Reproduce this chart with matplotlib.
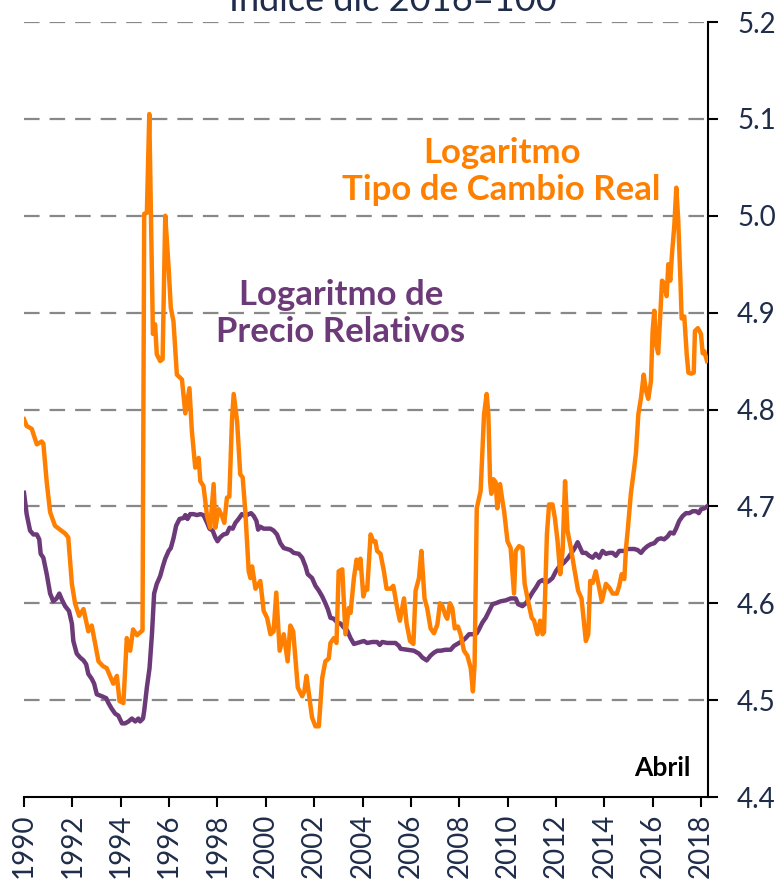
import matplotlib
matplotlib.use("Agg")
import matplotlib.pyplot as plt
from matplotlib.ticker import FormatStrFormatter

# Logaritmo del tipo de cambio real
tcr_anio = [
    1990.00, 1990.11, 1990.32, 1990.53, 1990.73, 1990.80, 1990.94, 1991.08, 1991.28, 1991.70,
    1991.83, 1991.98, 1992.11, 1992.28, 1992.46, 1992.66, 1992.80, 1993.08, 1993.27, 1993.42,
    1993.69, 1993.84, 1993.95, 1994.11, 1994.25, 1994.39, 1994.51, 1994.67, 1994.90, 1994.97,
    1995.08, 1995.18, 1995.25, 1995.33, 1995.42, 1995.49, 1995.63, 1995.73, 1995.84, 1995.98,
    1996.07, 1996.18, 1996.32, 1996.53, 1996.67, 1996.84, 1996.94, 1997.08, 1997.22, 1997.29,
    1997.42, 1997.57, 1997.70, 1997.84, 1997.91, 1998.05, 1998.19, 1998.28, 1998.39, 1998.49,
    1998.60, 1998.67, 1998.81, 1998.94, 1999.04, 1999.15, 1999.29, 1999.36, 1999.43, 1999.57,
    1999.77, 1999.91, 2000.05, 2000.19, 2000.32, 2000.43, 2000.57, 2000.74, 2000.90, 2001.01,
    2001.13, 2001.32, 2001.50, 2001.59, 2001.68, 2001.91, 2002.05, 2002.19, 2002.33, 2002.46,
    2002.60, 2002.67, 2002.81, 2002.92, 2003.01, 2003.16, 2003.29, 2003.43, 2003.50, 2003.64,
    2003.75, 2003.84, 2003.91, 2004.03, 2004.12, 2004.19, 2004.33, 2004.44, 2004.53, 2004.60,
    2004.74, 2004.88, 2004.99, 2005.16, 2005.27, 2005.43, 2005.54, 2005.71, 2005.82, 2005.96,
    2006.10, 2006.19, 2006.33, 2006.43, 2006.56, 2006.67, 2006.81, 2006.95, 2007.09, 2007.20,
    2007.30, 2007.43, 2007.50, 2007.61, 2007.71, 2007.81, 2007.94, 2008.05, 2008.19, 2008.33,
    2008.47, 2008.56, 2008.63, 2008.72, 2008.88, 2009.02, 2009.13, 2009.20, 2009.27, 2009.32,
    2009.41, 2009.50, 2009.57, 2009.68, 2009.78, 2009.85, 2009.99, 2010.12, 2010.26, 2010.33,
    2010.47, 2010.61, 2010.70, 2010.82, 2010.99, 2011.09, 2011.23, 2011.34, 2011.44, 2011.50,
    2011.62, 2011.71, 2011.85, 2011.95, 2012.06, 2012.17, 2012.27, 2012.37, 2012.47, 2012.61,
    2012.75, 2012.91, 2013.05, 2013.13, 2013.23, 2013.33, 2013.41, 2013.51, 2013.64, 2013.78,
    2013.89, 2014.06, 2014.20, 2014.34, 2014.51, 2014.61, 2014.71, 2014.82, 2014.89, 2014.96,
    2015.09, 2015.23, 2015.30, 2015.40, 2015.51, 2015.62, 2015.72, 2015.81, 2015.92, 2015.99,
    2016.06, 2016.13, 2016.22, 2016.31, 2016.38, 2016.47, 2016.57, 2016.64, 2016.72, 2016.79,
    2016.89, 2016.97, 2017.05, 2017.14, 2017.19, 2017.30, 2017.40, 2017.47, 2017.58, 2017.69,
    2017.74, 2017.86, 2017.99, 2018.06, 2018.13, 2018.24,
]
tcr_valor = [
    4.790, 4.783, 4.780, 4.764, 4.767, 4.765, 4.725, 4.694, 4.680, 4.672,
    4.668, 4.620, 4.600, 4.587, 4.594, 4.571, 4.577, 4.540, 4.535, 4.533,
    4.517, 4.525, 4.499, 4.497, 4.564, 4.551, 4.573, 4.567, 4.572, 5.002,
    5.003, 5.105, 5.000, 4.878, 4.888, 4.857, 4.850, 4.852, 5.000, 4.946,
    4.905, 4.891, 4.836, 4.831, 4.796, 4.822, 4.778, 4.740, 4.750, 4.726,
    4.721, 4.690, 4.678, 4.723, 4.678, 4.697, 4.690, 4.683, 4.709, 4.710,
    4.790, 4.816, 4.788, 4.733, 4.730, 4.695, 4.633, 4.626, 4.638, 4.615,
    4.623, 4.592, 4.585, 4.568, 4.571, 4.611, 4.551, 4.568, 4.540, 4.577,
    4.571, 4.513, 4.504, 4.509, 4.525, 4.482, 4.473, 4.473, 4.523, 4.540,
    4.543, 4.559, 4.564, 4.559, 4.633, 4.635, 4.568, 4.595, 4.590, 4.626,
    4.645, 4.636, 4.646, 4.607, 4.616, 4.614, 4.671, 4.664, 4.664, 4.654,
    4.651, 4.633, 4.615, 4.615, 4.618, 4.595, 4.582, 4.605, 4.579, 4.561,
    4.558, 4.613, 4.626, 4.654, 4.605, 4.595, 4.574, 4.569, 4.578, 4.600,
    4.597, 4.587, 4.584, 4.600, 4.595, 4.574, 4.576, 4.568, 4.551, 4.546,
    4.533, 4.509, 4.537, 4.698, 4.716, 4.795, 4.816, 4.795, 4.726, 4.713,
    4.728, 4.725, 4.698, 4.723, 4.706, 4.695, 4.664, 4.657, 4.610, 4.654,
    4.659, 4.657, 4.620, 4.605, 4.585, 4.582, 4.568, 4.582, 4.568, 4.570,
    4.671, 4.702, 4.702, 4.688, 4.664, 4.630, 4.654, 4.726, 4.675, 4.657,
    4.636, 4.613, 4.605, 4.585, 4.561, 4.568, 4.623, 4.621, 4.633, 4.616,
    4.602, 4.620, 4.616, 4.610, 4.610, 4.618, 4.630, 4.625, 4.657, 4.675,
    4.713, 4.740, 4.755, 4.795, 4.812, 4.836, 4.819, 4.811, 4.829, 4.881,
    4.902, 4.868, 4.858, 4.899, 4.933, 4.930, 4.917, 4.950, 4.933, 4.960,
    4.991, 5.029, 4.995, 4.933, 4.894, 4.896, 4.857, 4.838, 4.837, 4.838,
    4.881, 4.884, 4.878, 4.858, 4.860, 4.850,
]

# Logaritmo de precios relativos
pr_anio = [
    1990.00, 1990.11, 1990.25, 1990.39, 1990.53, 1990.63, 1990.69, 1990.80, 1990.94, 1991.08,
    1991.21, 1991.35, 1991.46, 1991.56, 1991.70, 1991.86, 1991.98, 1992.04, 1992.18, 1992.32,
    1992.46, 1992.57, 1992.66, 1992.80, 1992.90, 1993.01, 1993.22, 1993.40, 1993.49, 1993.63,
    1993.77, 1993.90, 1994.05, 1994.18, 1994.32, 1994.46, 1994.60, 1994.73, 1994.80, 1994.92,
    1994.97, 1995.08, 1995.19, 1995.29, 1995.38, 1995.49, 1995.63, 1995.74, 1995.84, 1995.98,
    1996.07, 1996.18, 1996.29, 1996.43, 1996.60, 1996.67, 1996.76, 1996.87, 1997.01, 1997.15,
    1997.29, 1997.42, 1997.57, 1997.67, 1997.80, 1997.91, 1998.00, 1998.11, 1998.25, 1998.39,
    1998.50, 1998.63, 1998.74, 1998.87, 1999.01, 1999.15, 1999.29, 1999.39, 1999.50, 1999.61,
    1999.68, 1999.77, 1999.91, 2000.05, 2000.19, 2000.32, 2000.46, 2000.60, 2000.74, 2000.88,
    2001.01, 2001.15, 2001.36, 2001.50, 2001.64, 2001.73, 2001.91, 2002.05, 2002.19, 2002.33,
    2002.46, 2002.56, 2002.67, 2002.81, 2002.95, 2003.09, 2003.22, 2003.36, 2003.50, 2003.64,
    2003.78, 2004.05, 2004.19, 2004.40, 2004.60, 2004.71, 2004.81, 2005.02, 2005.23, 2005.36,
    2005.50, 2005.57, 2005.85, 2006.12, 2006.33, 2006.47, 2006.65, 2006.81, 2006.95, 2007.09,
    2007.23, 2007.43, 2007.64, 2007.78, 2007.98, 2008.12, 2008.26, 2008.40, 2008.54, 2008.72,
    2008.81, 2008.95, 2009.09, 2009.23, 2009.37, 2009.50, 2009.71, 2009.92, 2010.12, 2010.33,
    2010.43, 2010.61, 2010.75, 2010.88, 2011.02, 2011.16, 2011.30, 2011.44, 2011.57, 2011.71,
    2011.85, 2011.99, 2012.13, 2012.33, 2012.47, 2012.61, 2012.75, 2012.89, 2013.00, 2013.09,
    2013.23, 2013.37, 2013.51, 2013.64, 2013.78, 2013.92, 2014.06, 2014.20, 2014.34, 2014.47,
    2014.61, 2014.82, 2014.96, 2015.09, 2015.23, 2015.37, 2015.51, 2015.64, 2015.78, 2015.92,
    2016.06, 2016.20, 2016.34, 2016.47, 2016.61, 2016.72, 2016.86, 2016.96, 2017.09, 2017.23,
    2017.37, 2017.51, 2017.65, 2017.79, 2017.90, 2017.99, 2018.13, 2018.24,
]
pr_valor = [
    4.714, 4.692, 4.675, 4.671, 4.671, 4.666, 4.651, 4.647, 4.630, 4.610,
    4.602, 4.605, 4.610, 4.604, 4.597, 4.592, 4.579, 4.561, 4.548, 4.544,
    4.541, 4.537, 4.527, 4.522, 4.517, 4.506, 4.504, 4.502, 4.497, 4.491,
    4.486, 4.484, 4.476, 4.476, 4.478, 4.481, 4.478, 4.481, 4.478, 4.481,
    4.489, 4.513, 4.533, 4.568, 4.610, 4.620, 4.628, 4.638, 4.646, 4.654,
    4.657, 4.667, 4.680, 4.687, 4.688, 4.691, 4.687, 4.692, 4.692, 4.691,
    4.692, 4.691, 4.683, 4.677, 4.675, 4.668, 4.664, 4.668, 4.671, 4.672,
    4.678, 4.677, 4.683, 4.687, 4.692, 4.690, 4.692, 4.693, 4.690, 4.685,
    4.676, 4.679, 4.677, 4.677, 4.677, 4.675, 4.671, 4.662, 4.657, 4.656,
    4.655, 4.652, 4.651, 4.647, 4.638, 4.630, 4.626, 4.618, 4.613, 4.607,
    4.600, 4.594, 4.585, 4.584, 4.580, 4.579, 4.575, 4.572, 4.564, 4.558,
    4.559, 4.561, 4.559, 4.560, 4.560, 4.557, 4.560, 4.559, 4.559, 4.559,
    4.556, 4.553, 4.552, 4.551, 4.548, 4.544, 4.541, 4.546, 4.549, 4.551,
    4.551, 4.552, 4.552, 4.556, 4.559, 4.561, 4.564, 4.568, 4.568, 4.569,
    4.573, 4.580, 4.585, 4.592, 4.599, 4.600, 4.602, 4.603, 4.605, 4.605,
    4.599, 4.597, 4.600, 4.605, 4.611, 4.616, 4.622, 4.624, 4.621, 4.623,
    4.626, 4.633, 4.638, 4.642, 4.646, 4.651, 4.656, 4.663, 4.657, 4.652,
    4.652, 4.649, 4.647, 4.651, 4.647, 4.654, 4.651, 4.652, 4.652, 4.649,
    4.654, 4.654, 4.656, 4.656, 4.656, 4.655, 4.652, 4.656, 4.659, 4.661,
    4.662, 4.666, 4.667, 4.666, 4.669, 4.673, 4.672, 4.677, 4.685, 4.690,
    4.693, 4.693, 4.695, 4.695, 4.693, 4.697, 4.698, 4.700,
]

anios_eje = list(range(1990, 2019, 2))
y_ticks = [4.4, 4.5, 4.6, 4.7, 4.8, 4.9, 5.0, 5.1, 5.2]

NARANJA = "#FF8000"
MORADO = "#6C3A78"
AZUL_TEXTO = "#1F2D4A"

plt.rcParams["font.family"] = ["Lato", "DejaVu Sans"]

fig = plt.figure(figsize=(7.81, 8.84), dpi=100)
ax = fig.add_axes([24 / 781, 87 / 884, (708 - 24) / 781, (797 - 22) / 884])

# lineas de grilla punteadas
for v in y_ticks[1:]:
    ax.axhline(v, color="#888888", lw=1.6, ls=(0, (7, 4.5)), zorder=1)

ax.plot(pr_anio, pr_valor, color=MORADO, lw=3.2, zorder=3, solid_joinstyle="round")
ax.plot(tcr_anio, tcr_valor, color=NARANJA, lw=3.2, zorder=4, solid_joinstyle="round")

ax.set_xlim(1990, 2018.28)
ax.set_ylim(4.4, 5.2)

ax.spines["left"].set_visible(False)
ax.spines["top"].set_visible(False)
ax.spines["right"].set_linewidth(1.5)
ax.spines["bottom"].set_linewidth(1.5)

ax.yaxis.tick_right()
ax.set_yticks(y_ticks)
ax.yaxis.set_major_formatter(FormatStrFormatter("%.1f"))
ax.tick_params(axis="y", direction="out", length=7, width=1.5, pad=14,
               labelsize=20, labelcolor=AZUL_TEXTO)

ax.set_xticks(anios_eje)
ax.set_xticklabels([str(a) for a in anios_eje], rotation=90)
ax.tick_params(axis="x", direction="out", length=7, width=1.5, pad=5,
               labelsize=20, labelcolor=AZUL_TEXTO)

# anotaciones
ax.text(2009.75, 5.046, "Logaritmo\nTipo de Cambio Real", color=NARANJA,
        fontsize=25, fontweight="bold", ha="center", va="center", linespacing=1.2)
ax.text(2003.1, 4.899, "Logaritmo de\nPrecio Relativos", color=MORADO,
        fontsize=25, fontweight="bold", ha="center", va="center", linespacing=1.2)
ax.text(2017.55, 4.418, "Abril", color="black", fontsize=19, fontweight="bold",
        ha="right", va="bottom")

fig.text(0.503, 1 - 11 / 884, "Índice dic 2016=100", color=AZUL_TEXTO,
         fontsize=26, ha="center", va="baseline")

fig.savefig("out.png", dpi=100)
